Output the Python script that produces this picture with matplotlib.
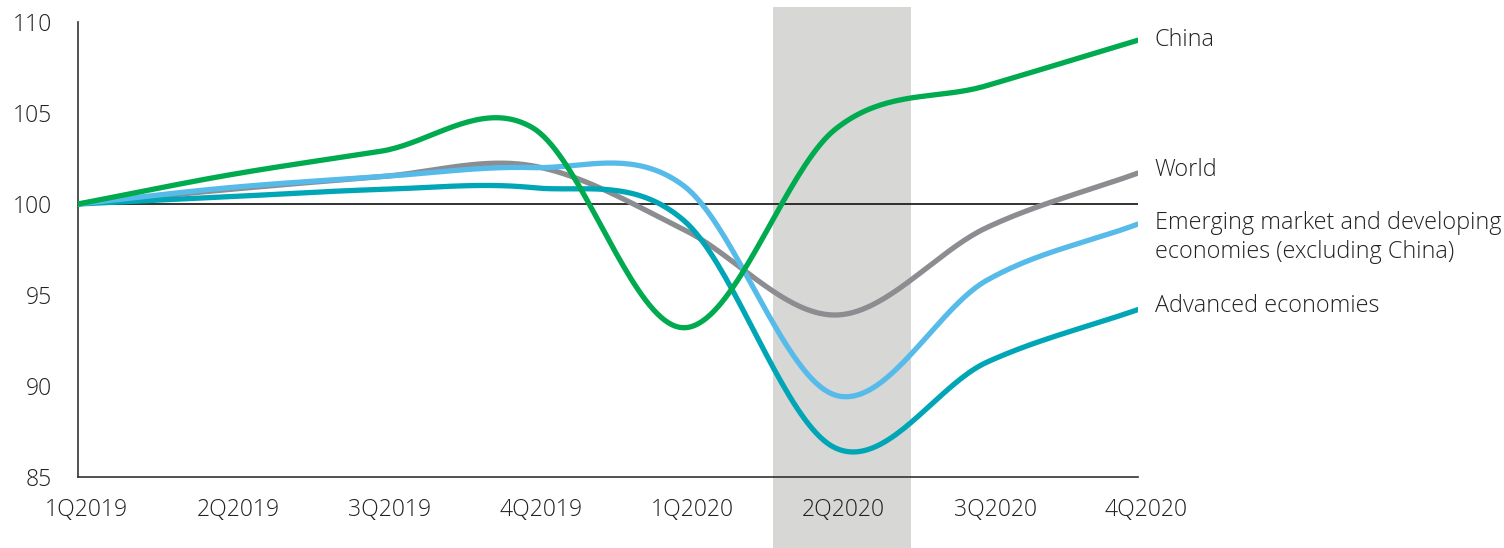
import numpy as np
import matplotlib
matplotlib.use("Agg")
import matplotlib.pyplot as plt
from matplotlib.patches import Rectangle
from matplotlib.transforms import ScaledTranslation

plt.rcParams['font.family'] = ['Open Sans', 'DejaVu Sans']

# Quarterly GDP index, 1Q2019 = 100
quarters = ['1Q2019', '2Q2019', '3Q2019', '4Q2019', '1Q2020', '2Q2020', '3Q2020', '4Q2020']
china = [100, 101.6, 102.9, 104.2, 93.2, 104.1, 106.5, 109.0]
world = [100, 100.8, 101.5, 102.1, 98.6, 93.9, 98.7, 101.7]
emerging = [100, 100.9, 101.5, 102.0, 101.0, 89.5, 95.8, 98.9]
advanced = [100, 100.4, 100.8, 100.9, 99.1, 86.6, 91.3, 94.2]

series = [
    ('World', world, '#8b8d91'),
    ('Advanced economies', advanced, '#00a6b6'),
    ('Emerging market and developing\neconomies (excluding China)', emerging, '#57bbe9'),
    ('China', china, '#00aa4f'),
]
label_y = {'China': 109.0, 'World': 101.85,
           'Emerging market and developing\neconomies (excluding China)': 98.15,
           'Advanced economies': 94.4}

# shaded lockdown quarter (in quarter-index units)
shade_start, shade_end = 4.59, 5.5


def smooth(y, n=40):
    # cardinal (Catmull-Rom) spline through the points, like a smoothed line chart
    y = np.asarray(y, float)
    x = np.arange(len(y))
    m = np.zeros_like(y)
    m[1:-1] = (y[2:] - y[:-2]) / 2
    m[0] = y[1] - y[0]
    m[-1] = y[-1] - y[-2]
    xs, ys = [], []
    for i in range(len(y) - 1):
        t = np.linspace(0, 1, n, endpoint=(i == len(y) - 2))
        h00 = 2 * t**3 - 3 * t**2 + 1
        h10 = t**3 - 2 * t**2 + t
        h01 = -2 * t**3 + 3 * t**2
        h11 = t**3 - t**2
        xs.append(x[i] + t)
        ys.append(h00 * y[i] + h10 * m[i] + h01 * y[i + 1] + h11 * m[i + 1])
    return np.concatenate(xs), np.concatenate(ys)


fig = plt.figure(figsize=(15.04, 5.48), dpi=100)
ax = fig.add_axes([78 / 1504, 71 / 548, 1060 / 1504, 455 / 548])

ax.set_xlim(0, 7)
ax.set_ylim(85, 110)

# grey band runs past the plot area top and bottom
ax.add_patch(Rectangle((shade_start, 81.0), shade_end - shade_start, 29.8,
                       facecolor='#d7d7d5', edgecolor='none', clip_on=False, zorder=0))

ax.axhline(100, color='#111111', lw=1.2, zorder=1)

for name, vals, col in series:
    xs, ys = smooth(vals)
    ax.plot(xs, ys, color=col, lw=3.8, solid_capstyle='round', zorder=3)
    ax.text(7.11, label_y[name], name, fontsize=16.8, color='#222222',
            va='center', ha='left', fontweight='light', linespacing=1.25)

for s in ['top', 'right']:
    ax.spines[s].set_visible(False)
for s in ['left', 'bottom']:
    ax.spines[s].set_color('#333333')
    ax.spines[s].set_linewidth(1.2)

ax.set_xticks(range(len(quarters)))
ax.set_xticklabels(quarters)
ax.set_yticks([85, 90, 95, 100, 105, 110])
ax.tick_params(length=0, labelsize=16.6, colors='#222222')
ax.tick_params(axis='x', pad=15)
ax.tick_params(axis='y', pad=19)
# quarter labels sit slightly right of their points
shift = ScaledTranslation(8.5 / 100, 0, fig.dpi_scale_trans)
for lab in ax.get_xticklabels():
    lab.set_transform(lab.get_transform() + shift)
for lab in ax.get_xticklabels() + ax.get_yticklabels():
    lab.set_fontweight('light')

fig.savefig('out.png', dpi=100)
